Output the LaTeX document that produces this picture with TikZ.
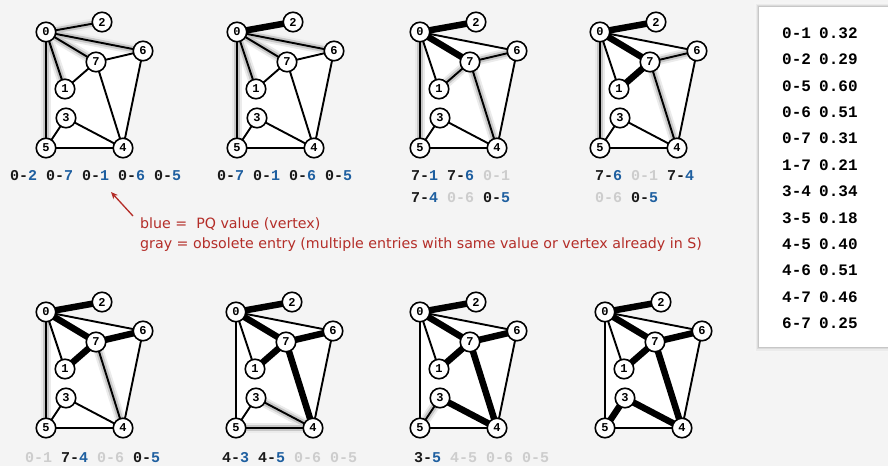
\documentclass[tikz,border=0pt]{standalone}
\usepackage{fontspec}
\setmainfont{Liberation Sans}
\newfontfamily\monofont{Liberation Mono}
\newfontfamily\notefont{DejaVu Sans}
\usetikzlibrary{arrows.meta}
\definecolor{bgc}{RGB}{244,244,244}
\definecolor{pqblue}{RGB}{30,95,160}
\definecolor{obs}{RGB}{205,205,205}
\definecolor{lblc}{RGB}{25,25,25}
\definecolor{notec}{RGB}{180,45,40}
\tikzset{
 vtx/.style={circle, draw=black, line width=1.6pt, fill=white, minimum size=19.5pt, inner sep=0pt, font=\monofont\bfseries\fontsize{12}{12}\selectfont},
 plainedge/.style={draw=black, line width=1.9pt},
 treeedge/.style={draw=black, line width=6.5pt},
 haloout/.style={draw=black!8, line width=10pt},
 haloin/.style={draw=black!22, line width=6pt},
 lbl/.style={anchor=west, inner sep=0pt, text=lblc, font=\monofont\bfseries\fontsize{15}{15}\selectfont},
 tbl/.style={anchor=west, inner sep=0pt, text=black, font=\monofont\bfseries\fontsize{16}{16}\selectfont},
 note/.style={anchor=west, inner sep=0pt, text=notec, font=\notefont\fontsize{14.2}{14.2}\selectfont},
}
\newcommand\pqe[2]{#1-\textcolor{pqblue}{#2}}
\newcommand\obe[2]{\textcolor{obs}{#1-#2}}
\newcommand\mstgraph[5]{%
 \begin{scope}[shift={(#2,#3)}]
  \coordinate (#1-0) at (0,0);
  \coordinate (#1-2) at (56,-10);
  \coordinate (#1-6) at (97,19);
  \coordinate (#1-7) at (50,30);
  \coordinate (#1-1) at (19,57);
  \coordinate (#1-3) at (20,86);
  \coordinate (#1-5) at (0,116);
  \coordinate (#1-4) at (77,116);
 \end{scope}
 \fill[white] (#1-0) -- (#1-6) -- (#1-4) -- (#1-5) -- cycle;
 \def\mstP{#5}%
 \ifx\mstP\empty\else
  \foreach \a/\b in {#5} {\draw[haloout] (#1-\a) -- (#1-\b);}
  \foreach \a/\b in {#5} {\draw[haloin] (#1-\a) -- (#1-\b);}
 \fi
 \foreach \a/\b in {0/2,0/6,0/7,0/1,0/5,1/7,7/6,7/4,6/4,3/5,3/4,5/4} {\draw[plainedge] (#1-\a) -- (#1-\b);}
 \def\mstT{#4}%
 \ifx\mstT\empty\else
  \foreach \a/\b in {#4} {\draw[treeedge] (#1-\a) -- (#1-\b);}
 \fi
 \foreach \v in {0,...,7} {\node[vtx] (#1-v\v) at (#1-\v) {\v};}
}
\begin{document}
\begin{tikzpicture}[x=1pt,y=-1pt]
\useasboundingbox (0,0) rectangle (888,466);
\fill[bgc] (0,0) rectangle (888,466);

\mstgraph{a}{46}{32}{}{0/2,0/7,0/1,0/6,0/5}
\mstgraph{b}{237}{32}{0/2}{0/7,0/1,0/6,0/5}
\mstgraph{c}{420}{32}{0/2,0/7}{7/1,7/6,7/4,0/5}
\mstgraph{d}{600}{32}{0/2,0/7,7/1}{7/6,7/4,0/5}
\mstgraph{e}{46}{312}{0/2,0/7,7/1,7/6}{7/4,0/5}
\mstgraph{f}{236}{312}{0/2,0/7,7/1,7/6,7/4}{4/3,4/5}
\mstgraph{g}{420}{312}{0/2,0/7,7/1,7/6,7/4,4/3}{3/5}
\mstgraph{h}{605}{312}{0/2,0/7,7/1,7/6,7/4,4/3,3/5}{}

% priority queue labels
\node[lbl] (la) at (10,176) {\pqe{0}{2} \pqe{0}{7} \pqe{0}{1} \pqe{0}{6} \pqe{0}{5}};
\node[lbl] (lb) at (217,176) {\pqe{0}{7} \pqe{0}{1} \pqe{0}{6} \pqe{0}{5}};
\node[lbl] (lc1) at (411,176) {\pqe{7}{1} \pqe{7}{6} \obe{0}{1}};
\node[lbl] (lc2) at (411,198) {\pqe{7}{4} \obe{0}{6} \pqe{0}{5}};
\node[lbl] (ld1) at (595,176) {\pqe{7}{6} \obe{0}{1} \pqe{7}{4}};
\node[lbl] (ld2) at (595,198) {\obe{0}{6} \pqe{0}{5}};
\node[lbl] (le) at (25,458) {\obe{0}{1} \pqe{7}{4} \obe{0}{6} \pqe{0}{5}};
\node[lbl] (lf) at (222,458) {\pqe{4}{3} \pqe{4}{5} \obe{0}{6} \obe{0}{5}};
\node[lbl] (lg) at (414,458) {\pqe{3}{5} \obe{4}{5} \obe{0}{6} \obe{0}{5}};

% annotation
\node[note] (n1) at (140,224) {blue =\ \ PQ value (vertex)};
\node[note] (n2) at (140,245) {gray = obsolete entry (multiple entries with same value or vertex already in S)};
\coordinate (atail) at (133,216);
\coordinate (ahead) at (111,192);
\draw[notec, line width=1.3pt, -{Stealth[length=7pt,width=6pt]}] (atail) -- (ahead);

% edge weight table with soft shadow
\fill[black!4] (754,2) rectangle (900,352);
\fill[black!8] (755.5,3.5) rectangle (900,350.5);
\fill[black!14] (757,5) rectangle (900,349);
\fill[black!22] (758,6) rectangle (900,348);
\fill[white] (759,7) rectangle (900,347);
\foreach \e/\w [count=\i from 0] in {0-1/0.32,0-2/0.29,0-5/0.60,0-6/0.51,0-7/0.31,1-7/0.21,3-4/0.34,3-5/0.18,4-5/0.40,4-6/0.51,4-7/0.46,6-7/0.25} {
 \node[tbl] (te\i) at (782,{33+26.4*\i}) {\e};
 \node[tbl] (tw\i) at (819,{33+26.4*\i}) {\w};
}
\end{tikzpicture}
\end{document}
